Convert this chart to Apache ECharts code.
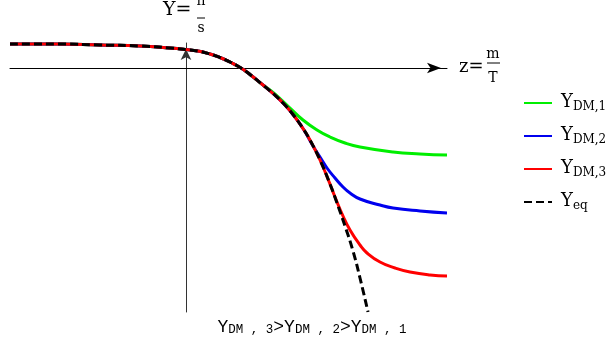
<!DOCTYPE html>
<html>
<head>
<meta charset="utf-8">
<script src="https://cdn.jsdelivr.net/npm/echarts@6/dist/echarts.min.js"></script>
<style>
  html, body { margin: 0; padding: 0; background: #fff; }
  #chart { width: 609px; height: 347px; }
</style>
</head>
<body>
<div id="chart"></div>
<script>
// Stretch where every curve coincides (z from far left to just past the axis crossing)
const commonX = [-1.76, -1.26, -0.86, -0.46, -0.16, 0.00, 0.12, 0.24, 0.34, 0.44, 0.55, 0.64, 0.77];
const commonY = [0.24, 0.24, 0.23, 0.22, 0.20, 0.185, 0.17, 0.14, 0.105, 0.06, 0.00, -0.065, -0.17];

// Equilibrium curve keeps falling ever more steeply
const eqX = [0.87, 0.97, 1.07, 1.17, 1.24, 1.34, 1.44, 1.51, 1.59, 1.67, 1.74, 1.82];
const eqY = [-0.255, -0.35, -0.465, -0.605, -0.72, -0.92, -1.16, -1.35, -1.58, -1.83, -2.10, -2.44];

// Branches that level off
const dm1X = [0.84, 0.94, 1.04, 1.17, 1.31, 1.44, 1.59, 1.74, 2.07, 2.34, 2.61];
const dm1Y = [-0.22, -0.305, -0.40, -0.52, -0.62, -0.69, -0.75, -0.79, -0.84, -0.86, -0.87];

const dm2X = [1.27, 1.34, 1.41, 1.49, 1.57, 1.64, 1.74, 1.94, 2.07, 2.34, 2.61];
const dm2Y = [-0.78, -0.89, -1.00, -1.10, -1.19, -1.25, -1.31, -1.37, -1.40, -1.43, -1.45];

const dm3X = [1.49, 1.57, 1.64, 1.74, 1.81, 1.94, 2.09, 2.24, 2.44, 2.61];
const dm3Y = [-1.29, -1.48, -1.62, -1.77, -1.85, -1.94, -2.00, -2.04, -2.07, -2.08];

// how many equilibrium points each branch follows before it splits off
const dm2Follow = 4;
const dm3Follow = 7;

const seriesNames = ['dm1', 'dm2', 'dm3', 'eq'];
const legendSub = { dm1: 'DM,1', dm2: 'DM,2', dm3: 'DM,3', eq: 'eq' };

function zip(xs, ys) { return xs.map((x, i) => [x, ys[i]]); }
const common = zip(commonX, commonY);
const eqTail = zip(eqX, eqY);

const dataEq = common.concat(eqTail);
const dataDm1 = common.concat(zip(dm1X, dm1Y));
const dataDm2 = common.concat(eqTail.slice(0, dm2Follow), zip(dm2X, dm2Y));
const dataDm3 = common.concat(eqTail.slice(0, dm3Follow), zip(dm3X, dm3Y));

const serif = 'DejaVu Serif';

function lineSeries(name, data, color, dashed) {
  return {
    name: name,
    type: 'line',
    data: data,
    smooth: 0.5,
    showSymbol: false,
    symbol: 'none',
    clip: false,
    lineStyle: { color: color, width: 3, type: dashed ? [8, 4] : 'solid', cap: 'butt', join: 'round' },
    itemStyle: { color: color }
  };
}

const chart = echarts.init(document.getElementById('chart'), null, { renderer: 'canvas' });
chart.setOption({
  animation: false,
  backgroundColor: '#fff',
  grid: { left: 10, top: 43, width: 437, height: 269, containLabel: false },
  xAxis: {
    type: 'value', min: -1.76, max: 2.61,
    axisLine: {
      show: true, onZero: true,
      symbol: ['none', 'arrow'], symbolSize: [8, 14], symbolOffset: [0, -6],
      lineStyle: { color: '#000', width: 1 }
    },
    axisTick: { show: false }, axisLabel: { show: false }, splitLine: { show: false }
  },
  yAxis: {
    type: 'value', min: -2.44, max: 0.25,
    axisLine: {
      show: true, onZero: true,
      symbol: ['none', 'arrow'], symbolSize: [8, 11], symbolOffset: [0, -6],
      lineStyle: { color: '#333', width: 1 }
    },
    axisTick: { show: false }, axisLabel: { show: false }, splitLine: { show: false }
  },
  legend: {
    orient: 'vertical',
    left: 523, top: 93, padding: 0,
    itemWidth: 28, itemHeight: 14, itemGap: 13,
    itemStyle: { opacity: 0, borderWidth: 0 },
    data: seriesNames,
    formatter: function (n) { return '{b|Y}{s|' + legendSub[n] + '}'; },
    textStyle: {
      rich: {
        b: { fontFamily: serif, fontSize: 18, color: '#000', padding: [0, 0, 2, 4], verticalAlign: 'bottom' },
        s: { fontFamily: serif, fontSize: 12, color: '#000', verticalAlign: 'bottom' }
      }
    }
  },
  series: [
    lineSeries('dm1', dataDm1, '#00ee00', false),
    lineSeries('dm2', dataDm2, '#0000ee', false),
    lineSeries('dm3', dataDm3, '#ff0000', false),
    lineSeries('eq', dataEq, '#000', true)
  ],
  graphic: [
    // vertical axis name: Y = n / s
    { type: 'text', left: 163, top: 1, style: { text: 'Y=', font: '19px "DejaVu Serif"', fill: '#000' } },
    { type: 'text', x: 201, y: 1, style: { text: 'n', font: '14px "DejaVu Serif"', fill: '#000', align: 'center', verticalAlign: 'middle' } },
    { type: 'line', shape: { x1: 197, y1: 18, x2: 205, y2: 18 }, style: { stroke: '#000', lineWidth: 1 } },
    { type: 'text', x: 201, y: 28, style: { text: 's', font: '14px "DejaVu Serif"', fill: '#000', align: 'center', verticalAlign: 'middle' } },
    // horizontal axis name: z = m / T
    { type: 'text', x: 459, y: 67, style: { text: 'z=', font: '18px "DejaVu Serif"', fill: '#000', align: 'left', verticalAlign: 'middle' } },
    { type: 'text', x: 493, y: 54, style: { text: 'm', font: '14px "DejaVu Serif"', fill: '#000', align: 'center', verticalAlign: 'middle' } },
    { type: 'line', shape: { x1: 487, y1: 63, x2: 500, y2: 63 }, style: { stroke: '#000', lineWidth: 1 } },
    { type: 'text', x: 493, y: 78, style: { text: 'T', font: '14px "DejaVu Serif"', fill: '#000', align: 'center', verticalAlign: 'middle' } },
    // ordering of the branches
    {
      type: 'text', x: 312, y: 327,
      style: {
        text: '{b|Y}{s|DM , 3}{b|>}{b|Y}{s|DM , 2}{b|>}{b|Y}{s|DM , 1}',
        align: 'center', verticalAlign: 'middle',
        rich: {
          b: { font: '18px "Liberation Mono"', fill: '#000', verticalAlign: 'bottom' },
          s: { font: '12.5px "Liberation Mono"', fill: '#000', verticalAlign: 'bottom' }
        }
      }
    }
  ]
});
</script>
</body>
</html>
